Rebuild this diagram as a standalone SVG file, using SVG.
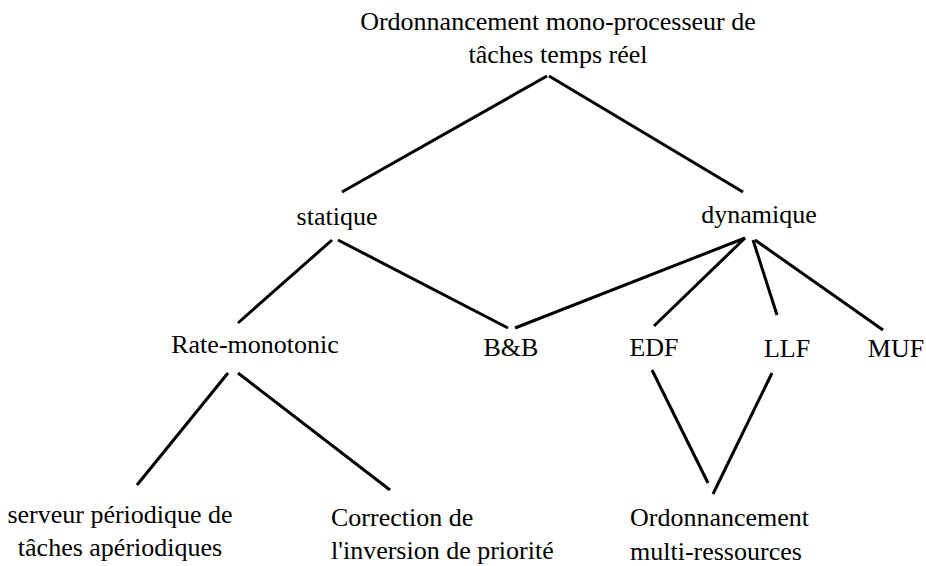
<svg xmlns="http://www.w3.org/2000/svg" width="926" height="566" viewBox="0 0 926 566">
<style>
text{font-size:26px;fill:#000}
.c{text-anchor:middle}
line{stroke:#000;stroke-width:3;stroke-linecap:butt}
</style>
<rect width="926" height="566" fill="#fff"/>
<g id="connectors">
<line x1="547" y1="76" x2="342" y2="192"/>
<line x1="549" y1="76" x2="743" y2="192"/>
<line x1="332" y1="240" x2="238" y2="323"/>
<line x1="338" y1="240" x2="508" y2="328"/>
<line x1="745" y1="238" x2="515" y2="328"/>
<line x1="745" y1="238" x2="654" y2="326"/>
<line x1="753" y1="240" x2="777" y2="315"/>
<line x1="755" y1="240" x2="883" y2="330"/>
<line x1="228" y1="373" x2="137" y2="485"/>
<line x1="238" y1="373" x2="390" y2="490"/>
<line x1="652" y1="370" x2="708" y2="483"/>
<line x1="772" y1="373" x2="713" y2="494"/>
</g>
<g font-family="Liberation Serif, 'Times New Roman', 'DejaVu Serif', serif">
<g id="root"><text class="c" x="558" y="30">Ordonnancement mono-processeur de</text><text class="c" x="558" y="63">tâches temps réel</text></g>
<g id="statique"><text class="c" x="337" y="225">statique</text></g>
<g id="dynamique"><text class="c" x="759" y="223">dynamique</text></g>
<g id="rate-monotonic"><text class="c" x="255" y="353">Rate-monotonic</text></g>
<g id="bb"><text class="c" x="511" y="356">B&amp;B</text></g>
<g id="edf"><text class="c" x="654" y="356">EDF</text></g>
<g id="llf"><text class="c" x="787" y="357">LLF</text></g>
<g id="muf"><text class="c" x="896" y="357">MUF</text></g>
<g id="serveur"><text class="c" x="120" y="523">serveur périodique de</text><text class="c" x="120" y="556">tâches apériodiques</text></g>
<g id="correction"><text x="331" y="526">Correction de</text><text x="331" y="559">l'inversion de priorité</text></g>
<g id="multi"><text x="630" y="526">Ordonnancement</text><text x="630" y="560">multi-ressources</text></g>
</g>
</svg>
